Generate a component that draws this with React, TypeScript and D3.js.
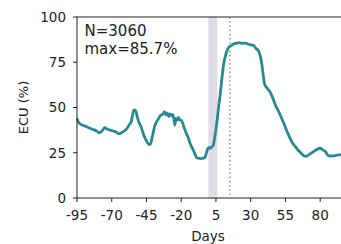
import React from "react";
import * as d3 from "d3";

const days: number[] = [
  -95, -94, -92, -90, -87, -84, -82, -80, -79, -77, -75, -73, -71, -69, -67, -65, -63, -61, -59, -57,
  -56, -55, -54, -53, -52, -51, -49, -47, -45, -43, -42, -41, -39, -37, -35, -33, -32, -31, -30, -29,
  -28, -27, -26, -25, -24.5, -24, -23, -22, -21, -20, -19, -18, -17, -16, -15, -14, -13, -12, -11, -10,
  -9, -8, -6, -4, -3, -2, -1, 0, 1, 2, 3, 4, 5, 6, 7, 8, 9, 10, 11, 12,
  13, 14, 16, 18, 20, 22, 24, 26, 28, 30, 32, 34, 35.5, 37, 38, 39, 40, 42, 44, 46,
  48, 50, 52, 54, 56, 58, 60, 62, 64, 66, 68, 70, 72, 74, 76, 78, 80, 82, 84, 85,
  87, 90, 93, 95,
];
const ecu: number[] = [
  44, 42, 40.5, 40, 39, 38, 37.5, 36.5, 36, 37, 38.8, 38, 37.5, 37, 36.5, 35.4, 36, 37, 38.5, 41,
  42, 46, 48.5, 48.6, 46, 43, 39.5, 35, 31.5, 29.5, 30, 33, 40, 43, 45.5, 46.5, 47.7, 46, 47, 45,
  46.5, 45.5, 46, 42, 40.3, 44, 43, 44.5, 43, 43, 41.5, 39, 37, 35, 33.5, 31, 29, 27.5, 26, 24,
  22.5, 22, 21.8, 22, 22.5, 24.5, 27, 28, 27.5, 28.3, 29, 33, 38, 44, 51, 57, 64, 71, 76, 79,
  81.5, 83, 84.2, 85.2, 85.6, 85.7, 85.5, 85.6, 85.1, 84.6, 84.4, 82.5, 81.5, 78, 74, 68, 63, 60.5, 58.5, 55,
  51, 48, 44.5, 41, 37, 33.5, 30.5, 28.5, 26.5, 25, 23.5, 23, 24, 25, 26, 27, 27.5, 26.5, 25.5, 24,
  23.2, 23.3, 23.8, 23.8,
];
const xTicks: number[] = [-95, -70, -45, -20, 5, 30, 55, 80];
const yTicks: number[] = [0, 25, 50, 75, 100];
const bandRange: number[] = [-0.5, 6];
const markerDay = 15;
const annotation: string[] = ["N=3060", "max=85.7%"];

const W = 341;
const H = 244;
const L = 77;
const T = 17;
const R = 342;
const B = 198;
const font = "DejaVu Sans, sans-serif";

export default function App() {
  const x = d3.scaleLinear().domain([-95, 95.7]).range([L, R]);
  const y = d3.scaleLinear().domain([0, 100]).range([B, T]);
  const line = d3
    .line<number>()
    .x((_, i) => x(days[i]))
    .y((d) => y(d))
    .curve(d3.curveMonotoneX);
  return (
    <svg
      width={W}
      height={H}
      style={{ position: "absolute", left: 0, top: 0 }}
      fontFamily={font}
    >
      <rect x={0} y={0} width={W} height={H} fill="#fff" />
      <rect
        x={x(bandRange[0])}
        y={T}
        width={x(bandRange[1]) - x(bandRange[0])}
        height={B - T}
        fill="#dedde7"
      />
      <line
        x1={x(markerDay)}
        x2={x(markerDay)}
        y1={T}
        y2={B}
        stroke="#9c98b8"
        strokeWidth={1.6}
        strokeDasharray="1.6,2.6"
      />
      <path d={line(ecu) || ""} fill="none" stroke="#2a8a8f" strokeWidth={2.8} strokeLinejoin="round" />
      <rect x={L} y={T} width={R - L} height={B - T} fill="none" stroke="#222" strokeWidth={1} />
      {xTicks.map((t) => (
        <g key={t}>
          <line x1={x(t)} x2={x(t)} y1={B} y2={B + 4} stroke="#222" />
          <text x={x(t)} y={B + 21.5} textAnchor="middle" fontSize={13.5} fill="#222">
            {t}
          </text>
        </g>
      ))}
      {yTicks.map((t) => (
        <g key={t}>
          <line x1={L - 4} x2={L} y1={y(t)} y2={y(t)} stroke="#222" />
          <text x={L - 11} y={y(t) + 4.9} textAnchor="end" fontSize={13.5} fill="#222">
            {t}
          </text>
        </g>
      ))}
      <text x={208} y={241} textAnchor="middle" fontSize={13.5} fill="#222">
        Days
      </text>
      <text
        transform={`translate(28,${(T + B) / 2}) rotate(-90)`}
        textAnchor="middle"
        fontSize={13}
        fill="#222"
      >
        ECU (%)
      </text>
      {annotation.map((s, i) => (
        <text key={s} x={84.5} y={35.5 + i * 18.5} fontSize={15} fill="#222">
          {s}
        </text>
      ))}
    </svg>
  );
}
